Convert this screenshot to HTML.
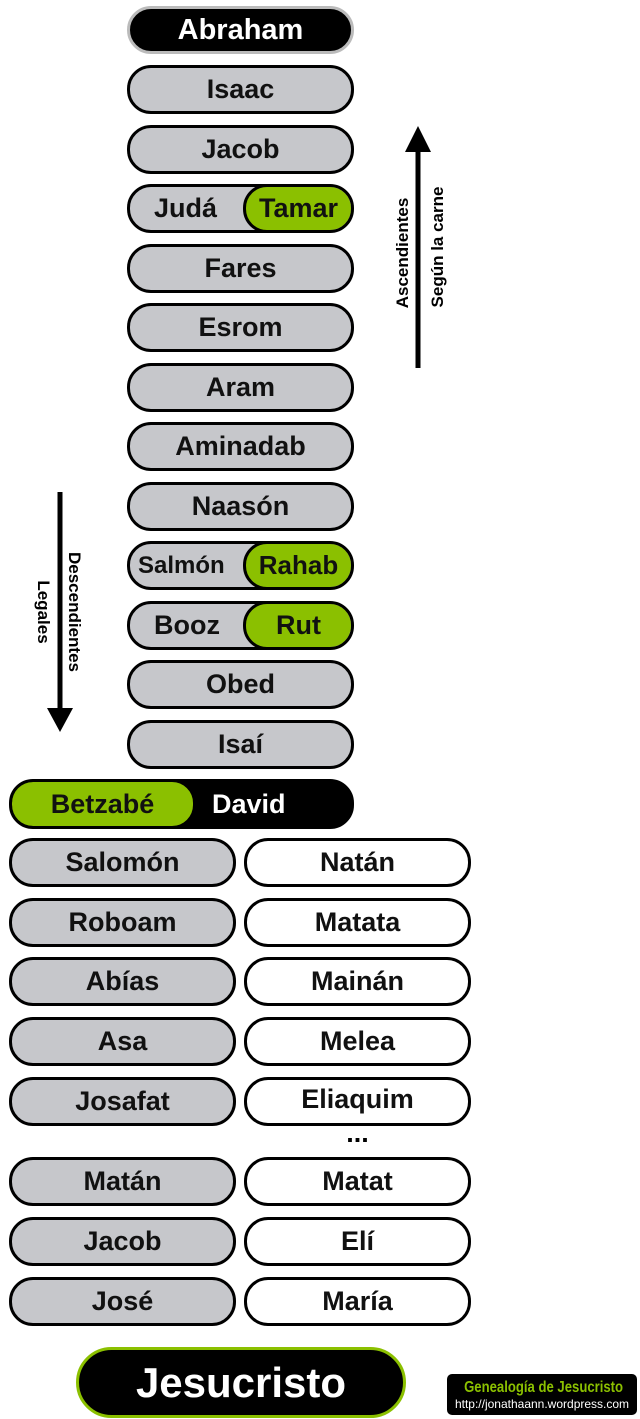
<!DOCTYPE html>
<html><head><meta charset="utf-8"><style>
body{margin:0;width:640px;height:1419px;background:#fff;position:relative;overflow:hidden;font-family:"Liberation Sans",sans-serif;font-weight:bold}
.b{position:absolute;box-sizing:border-box;border:3px solid #000;border-radius:24px;background:#c6c7cb;display:flex;align-items:center;justify-content:center;font-size:27px;color:#111;overflow:hidden}
.g{position:absolute;top:-3px;bottom:-3px;right:-3px;background:#8bc000;border:3px solid #000;border-radius:24px;display:flex;align-items:center;justify-content:center}
.w{background:#fff}
.v{position:absolute;font-size:17px;white-space:nowrap}
</style></head><body>
<div class="b" style="left:127px;top:6px;width:227px;height:48px;background:#000;color:#fff;border-color:#bbb;font-size:29px">Abraham</div>
<div class="b" style="left:127px;top:65px;width:227px;height:49px">Isaac</div>
<div class="b" style="left:127px;top:125px;width:227px;height:49px">Jacob</div>
<div class="b" style="left:127px;top:184px;width:227px;height:49px;justify-content:flex-start;padding-left:24px">Judá<div class="g" style="left:113px">Tamar</div></div>
<div class="b" style="left:127px;top:244px;width:227px;height:49px">Fares</div>
<div class="b" style="left:127px;top:303px;width:227px;height:49px">Esrom</div>
<div class="b" style="left:127px;top:363px;width:227px;height:49px">Aram</div>
<div class="b" style="left:127px;top:422px;width:227px;height:49px">Aminadab</div>
<div class="b" style="left:127px;top:482px;width:227px;height:49px">Naasón</div>
<div class="b" style="left:127px;top:541px;width:227px;height:49px;justify-content:flex-start;padding-left:8px;font-size:24px">Salmón<div class="g" style="left:113px;font-size:26px">Rahab</div></div>
<div class="b" style="left:127px;top:601px;width:227px;height:49px;justify-content:flex-start;padding-left:24px">Booz<div class="g" style="left:113px">Rut</div></div>
<div class="b" style="left:127px;top:660px;width:227px;height:49px">Obed</div>
<div class="b" style="left:127px;top:720px;width:227px;height:49px">Isaí</div>
<div class="b" style="left:9px;top:779px;width:345px;height:50px;background:#000;color:#fff;justify-content:flex-start;padding-left:200px">David<div class="g" style="left:-3px;right:auto;width:181px;color:#111">Betzabé</div></div>

<div class="b" style="left:9px;top:838px;width:227px;height:49px">Salomón</div>
<div class="b" style="left:9px;top:898px;width:227px;height:49px">Roboam</div>
<div class="b" style="left:9px;top:957px;width:227px;height:49px">Abías</div>
<div class="b" style="left:9px;top:1017px;width:227px;height:49px">Asa</div>
<div class="b" style="left:9px;top:1077px;width:227px;height:49px">Josafat</div>
<div class="b" style="left:9px;top:1157px;width:227px;height:49px">Matán</div>
<div class="b" style="left:9px;top:1217px;width:227px;height:49px">Jacob</div>
<div class="b" style="left:9px;top:1277px;width:227px;height:49px">José</div>

<div class="b w" style="left:244px;top:838px;width:227px;height:49px">Natán</div>
<div class="b w" style="left:244px;top:898px;width:227px;height:49px">Matata</div>
<div class="b w" style="left:244px;top:957px;width:227px;height:49px">Mainán</div>
<div class="b w" style="left:244px;top:1017px;width:227px;height:49px">Melea</div>
<div class="b w" style="left:244px;top:1077px;width:227px;height:49px;align-items:flex-start;padding-top:4px">Eliaquim</div>
<div style="position:absolute;left:244px;width:227px;top:1118px;text-align:center;font-size:27px">...</div>
<div class="b w" style="left:244px;top:1157px;width:227px;height:49px">Matat</div>
<div class="b w" style="left:244px;top:1217px;width:227px;height:49px">Elí</div>
<div class="b w" style="left:244px;top:1277px;width:227px;height:49px">María</div>

<div class="b" style="left:76px;top:1347px;width:330px;height:71px;background:#000;color:#fff;border-color:#8bc000;border-radius:36px;font-size:42px">Jesucristo</div>
<div style="position:absolute;left:447px;top:1374px;width:190px;height:41px;background:#000;border-radius:5px;text-align:center;font-weight:normal;white-space:nowrap">
<div style="color:#8bc000;font-weight:bold;font-size:16px;margin-top:5px;transform:scaleX(.82);white-space:nowrap">Genealogía de Jesucristo</div>
<div style="color:#fff;font-size:12px;white-space:nowrap">http://jonathaann.wordpress.com</div></div>

<svg style="position:absolute;left:0;top:0" width="640" height="1419">
<line x1="418" y1="368" x2="418" y2="148" stroke="#000" stroke-width="5"/>
<polygon points="405,152 431,152 418,126" fill="#000"/>
<line x1="60" y1="492" x2="60" y2="712" stroke="#000" stroke-width="5"/>
<polygon points="47,708 73,708 60,732" fill="#000"/>
</svg>
<div class="v" style="left:403px;top:253px;transform:translate(-50%,-50%) rotate(-90deg)">Ascendientes</div>
<div class="v" style="left:438px;top:247px;transform:translate(-50%,-50%) rotate(-90deg)">Según la carne</div>
<div class="v" style="left:74px;top:612px;transform:translate(-50%,-50%) rotate(90deg)">Descendientes</div>
<div class="v" style="left:43px;top:612px;transform:translate(-50%,-50%) rotate(90deg)">Legales</div>
</body></html>
